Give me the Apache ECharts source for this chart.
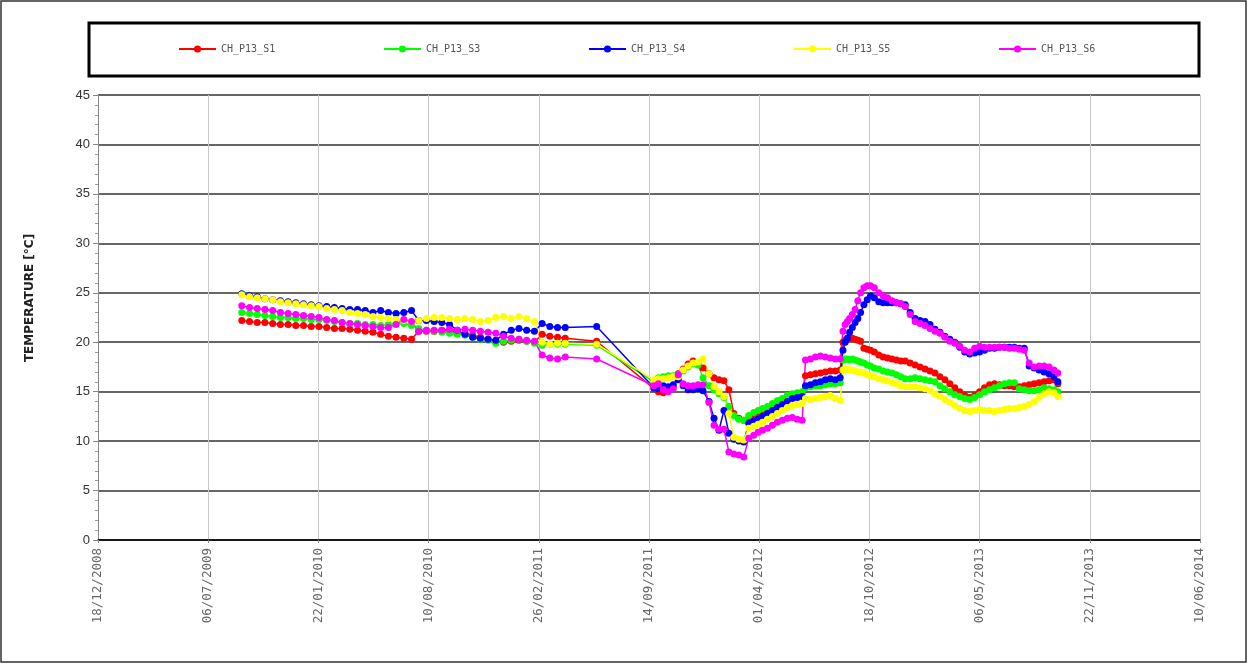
<!DOCTYPE html>
<html><head><meta charset="utf-8">
<script src="https://cdn.jsdelivr.net/npm/echarts@6/dist/echarts.min.js"></script>
<style>html,body{margin:0;padding:0;background:#fff}#c{width:1248px;height:664px}</style>
</head><body><div id="c"></div>
<script>
const dates = [
'2009-09-05','2009-09-19','2009-10-03','2009-10-17','2009-10-31','2009-11-14','2009-11-28','2009-12-12','2009-12-26','2010-01-09','2010-01-23','2010-02-06','2010-02-20','2010-03-06','2010-03-20','2010-04-03','2010-04-17','2010-05-01','2010-05-15','2010-05-29','2010-06-12','2010-06-26','2010-07-10',
'2010-07-23','2010-08-06','2010-08-20','2010-09-03','2010-09-17','2010-10-01','2010-10-15','2010-10-29','2010-11-12','2010-11-26','2010-12-10','2010-12-24','2011-01-07','2011-01-21','2011-02-04','2011-02-18','2011-03-04','2011-03-18','2011-04-01','2011-04-15',
'2011-06-11',
'2011-09-23','2011-10-01','2011-10-10','2011-10-19','2011-10-28','2011-11-06','2011-11-15','2011-11-24','2011-12-03','2011-12-12','2011-12-21','2012-01-01','2012-01-10','2012-01-19','2012-01-28','2012-02-06','2012-02-15','2012-02-24','2012-03-04','2012-03-13','2012-03-22','2012-03-30','2012-04-07','2012-04-16','2012-04-25','2012-05-04','2012-05-13','2012-05-22','2012-05-31','2012-06-09','2012-06-18',
'2012-06-24','2012-07-03','2012-07-12','2012-07-21','2012-07-30','2012-08-08','2012-08-17','2012-08-26','2012-08-31',
'2012-09-04','2012-09-08','2012-09-12','2012-09-17','2012-09-22','2012-09-27','2012-10-02','2012-10-08','2012-10-14','2012-10-20','2012-10-27','2012-11-04','2012-11-12','2012-11-20','2012-11-28','2012-12-06','2012-12-14','2012-12-22','2012-12-31','2013-01-09','2013-01-18','2013-01-27','2013-02-05','2013-02-14','2013-02-23','2013-03-04','2013-03-13','2013-03-22','2013-03-31','2013-04-09','2013-04-18','2013-04-27','2013-05-06','2013-05-15','2013-05-24','2013-06-02','2013-06-11','2013-06-20','2013-06-29','2013-07-08','2013-07-17','2013-07-26','2013-08-04','2013-08-13','2013-08-22','2013-08-31','2013-09-09','2013-09-18','2013-09-25'
];
const S1 = [
22.2,22.1,22.0,22.0,21.9,21.8,21.8,21.7,21.7,21.6,21.6,21.5,21.4,21.4,21.3,21.2,21.1,21.0,20.8,20.6,20.5,20.4,20.3,
21.1,21.1,21.1,21.2,21.1,21.0,20.9,20.7,20.5,20.3,20.1,20.0,20.1,20.2,20.1,20.0,20.8,20.6,20.5,20.4,
20.1,
15.3,15.0,14.9,15.1,15.5,16.8,17.3,17.8,18.1,17.9,17.4,16.8,16.4,16.2,16.1,15.2,12.8,12.3,12.1,12.3,12.5,12.7,12.9,13.2,13.6,13.9,14.2,14.5,14.7,14.8,14.9,
16.6,16.7,16.8,16.9,17.0,17.1,17.1,17.2,20.0,
20.2,20.3,20.4,20.4,20.3,20.2,20.1,19.4,19.3,19.2,19.0,18.7,18.5,18.4,18.3,18.2,18.1,18.1,17.9,17.7,17.5,17.3,17.1,16.9,16.5,16.2,15.8,15.4,15.0,14.6,14.4,14.6,15.0,15.4,15.7,15.8,15.7,15.6,15.6,15.5,15.5,15.6,15.7,15.8,15.9,16.0,16.1,16.2,15.8
];
const S3 = [
23.0,22.9,22.8,22.7,22.6,22.5,22.5,22.4,22.4,22.3,22.3,22.2,22.1,22.0,21.9,21.9,21.8,21.8,21.7,21.8,21.9,21.9,21.7,
21.4,21.2,21.1,21.0,20.9,20.8,20.7,20.5,20.3,20.2,19.9,20.1,20.2,20.3,20.1,19.9,19.7,19.8,19.8,19.8,
19.7,
16.0,16.4,16.5,16.6,16.6,16.7,17.1,17.5,17.8,17.7,16.4,15.6,15.2,14.8,14.4,13.5,12.6,12.2,12.1,12.6,12.9,13.1,13.3,13.5,13.8,14.1,14.3,14.6,14.8,14.9,15.0,
15.4,15.5,15.6,15.6,15.7,15.8,15.8,15.9,18.2,
18.3,18.3,18.2,18.3,18.2,18.1,18.0,17.9,17.7,17.6,17.4,17.3,17.1,17.0,16.9,16.7,16.5,16.3,16.3,16.4,16.3,16.2,16.1,16.0,15.6,15.3,15.0,14.7,14.5,14.3,14.2,14.4,14.7,15.0,15.2,15.4,15.6,15.8,15.9,15.9,15.3,15.2,15.1,15.1,15.2,15.4,15.3,15.2,15.0
];
const S4 = [
24.9,24.7,24.6,24.4,24.3,24.2,24.1,24.0,23.9,23.8,23.7,23.6,23.5,23.4,23.3,23.3,23.2,23.0,23.2,23.0,22.9,23.0,23.2,
22.2,22.2,22.1,22.0,21.8,21.2,20.8,20.5,20.4,20.3,20.2,20.8,21.2,21.4,21.2,21.1,21.9,21.6,21.5,21.5,
21.6,
15.4,15.3,15.6,15.5,15.7,16.2,15.6,15.2,15.2,15.3,15.1,14.0,12.3,11.1,13.1,10.8,10.2,10.0,9.9,11.8,12.0,12.2,12.5,12.8,13.1,13.4,13.7,14.0,14.3,14.4,14.5,
15.6,15.7,15.9,16.0,16.2,16.3,16.2,16.4,19.2,
20.0,20.4,21.0,21.5,22.0,22.4,23.0,23.8,24.3,24.7,24.5,24.1,24.0,24.0,24.0,24.0,23.9,23.8,23.0,22.4,22.2,22.1,21.8,21.3,21.0,20.6,20.3,20.0,19.5,19.0,18.8,18.9,19.0,19.2,19.4,19.4,19.5,19.5,19.5,19.5,19.4,19.4,17.6,17.4,17.2,17.0,16.8,16.5,16.0
];
const S5 = [
24.8,24.6,24.5,24.4,24.3,24.1,24.0,23.9,23.8,23.7,23.6,23.4,23.3,23.2,23.0,22.9,22.8,22.6,22.5,22.4,22.3,22.2,22.1,
22.2,22.4,22.5,22.5,22.4,22.3,22.4,22.3,22.1,22.2,22.5,22.6,22.4,22.6,22.4,22.1,20.0,19.8,19.9,19.9,
19.8,
16.2,16.3,16.3,16.4,16.5,16.5,17.2,17.6,17.9,18.0,18.3,16.8,15.5,15.0,14.5,12.8,10.4,10.2,10.1,11.3,11.5,11.7,11.9,12.2,12.5,12.8,13.1,13.4,13.6,13.7,13.8,
14.3,14.2,14.3,14.4,14.5,14.6,14.3,14.1,17.2,
17.3,17.3,17.2,17.2,17.1,17.0,17.0,16.9,16.7,16.6,16.5,16.3,16.2,16.1,15.9,15.8,15.6,15.5,15.5,15.5,15.4,15.3,15.1,14.8,14.5,14.2,13.9,13.6,13.3,13.1,13.0,13.1,13.2,13.1,13.1,13.0,13.1,13.2,13.3,13.3,13.4,13.5,13.7,14.0,14.4,14.8,15.0,14.9,14.5
];
const S6 = [
23.7,23.5,23.4,23.3,23.2,23.0,22.9,22.8,22.7,22.6,22.5,22.3,22.2,22.0,21.9,21.8,21.7,21.6,21.5,21.5,21.8,22.3,22.1,
21.1,21.2,21.2,21.2,21.3,21.2,21.3,21.2,21.1,21.0,20.9,20.6,20.4,20.3,20.2,20.1,18.7,18.4,18.3,18.5,
18.3,
15.6,15.8,15.2,15.0,15.3,16.7,15.8,15.6,15.6,15.7,15.7,13.9,11.6,11.2,11.2,8.9,8.7,8.6,8.4,10.3,10.6,10.9,11.1,11.3,11.6,11.9,12.1,12.3,12.4,12.2,12.1,
18.2,18.3,18.5,18.6,18.5,18.4,18.3,18.3,21.1,
21.8,22.1,22.4,22.8,23.3,24.2,25.0,25.5,25.7,25.7,25.5,25.0,24.7,24.5,24.2,24.0,23.9,23.6,22.8,22.1,21.9,21.7,21.4,21.1,20.9,20.5,20.1,19.9,19.6,19.2,19.0,19.4,19.6,19.5,19.5,19.5,19.5,19.5,19.4,19.4,19.3,19.2,17.9,17.5,17.6,17.6,17.5,17.2,16.9
];
const seriesNames = ['CH_P13_S1','CH_P13_S3','CH_P13_S4','CH_P13_S5','CH_P13_S6'];
const seriesValues = [S1, S3, S4, S5, S6];
const colors = ['#ff0000','#00ff00','#0000ff','#ffff00','#ff00ff'];
const xStart = '2008-12-18';
const xEnd = '2014-06-10';
const xStepDays = 200;
const yMin = 0, yMax = 45, yStep = 5;
const yTitle = 'TEMPERATURE [°C]';

function toUTC(s){ const p = s.split('-').map(Number); return Date.UTC(p[0], p[1]-1, p[2]); }
const epoch = toUTC(xStart);
function dayNum(s){ return Math.round((toUTC(s) - epoch) / 86400000); }
function fmt(v){
  const d = new Date(epoch + v * 86400000);
  const dd = String(d.getUTCDate()).padStart(2,'0');
  const mm = String(d.getUTCMonth()+1).padStart(2,'0');
  return dd + '/' + mm + '/' + d.getUTCFullYear();
}

const chart = echarts.init(document.getElementById('c'), null, {renderer:'canvas'});
const option = {
  animation: false,
  backgroundColor: '#fff',
  grid: {left: 98, right: 48, top: 95, bottom: 124, containLabel: false},
  legend: seriesNames.map((n, i) => ({
    data: [n], left: 178 + 205 * i, top: 44, padding: 0, itemWidth: 37, itemHeight: 9,
    selectedMode: false,
    textStyle: {fontFamily: 'DejaVu Sans Mono', fontSize: 10, color: '#555'}
  })),
  graphic: [
    {type: 'rect', shape: {x: 89, y: 23, width: 1110, height: 53}, style: {fill: 'none', stroke: '#000', lineWidth: 3}, silent: true},
    {type: 'rect', shape: {x: 1, y: 1, width: 1245, height: 661}, style: {fill: 'none', stroke: '#333', lineWidth: 1.5}, silent: true},
    {type: 'text', x: 30, y: 298, rotation: Math.PI / 2,
     style: {text: yTitle, fill: '#222', font: 'bold 12px "DejaVu Sans"', align: 'center', verticalAlign: 'middle'}}
  ],
  xAxis: {
    type: 'value', min: 0, max: dayNum(xEnd), interval: xStepDays,
    axisLine: {show: true, lineStyle: {color: '#000', width: 1.5}},
    axisTick: {show: true, length: 3, lineStyle: {color: '#888'}},
    splitLine: {show: true, lineStyle: {color: '#c8c8c8', width: 1}},
    axisLabel: {rotate: 90, margin: 8, formatter: fmt, fontFamily: 'DejaVu Sans Mono', fontSize: 12.5, color: '#666'}
  },
  yAxis: {
    type: 'value', min: yMin, max: yMax, interval: yStep,
    axisLine: {show: true, lineStyle: {color: '#888', width: 1}},
    axisTick: {show: true, length: 5, lineStyle: {color: '#888'}},
    minorTick: {show: true, splitNumber: 5, length: 3, lineStyle: {color: '#999'}},
    splitLine: {show: true, lineStyle: {color: '#333', width: 1.5}},
    axisLabel: {margin: 8, fontFamily: 'Liberation Sans', fontSize: 13, color: '#333'}
  },
  series: seriesNames.map((n, i) => ({
    name: n, type: 'line',
    data: dates.map((d, k) => [dayNum(d), seriesValues[i][k]]),
    symbol: 'circle', symbolSize: 7,
    lineStyle: {color: colors[i], width: 1.5},
    itemStyle: {color: colors[i]},
    emphasis: {disabled: true}
  }))
};
chart.setOption(option);
</script>
</body></html>
